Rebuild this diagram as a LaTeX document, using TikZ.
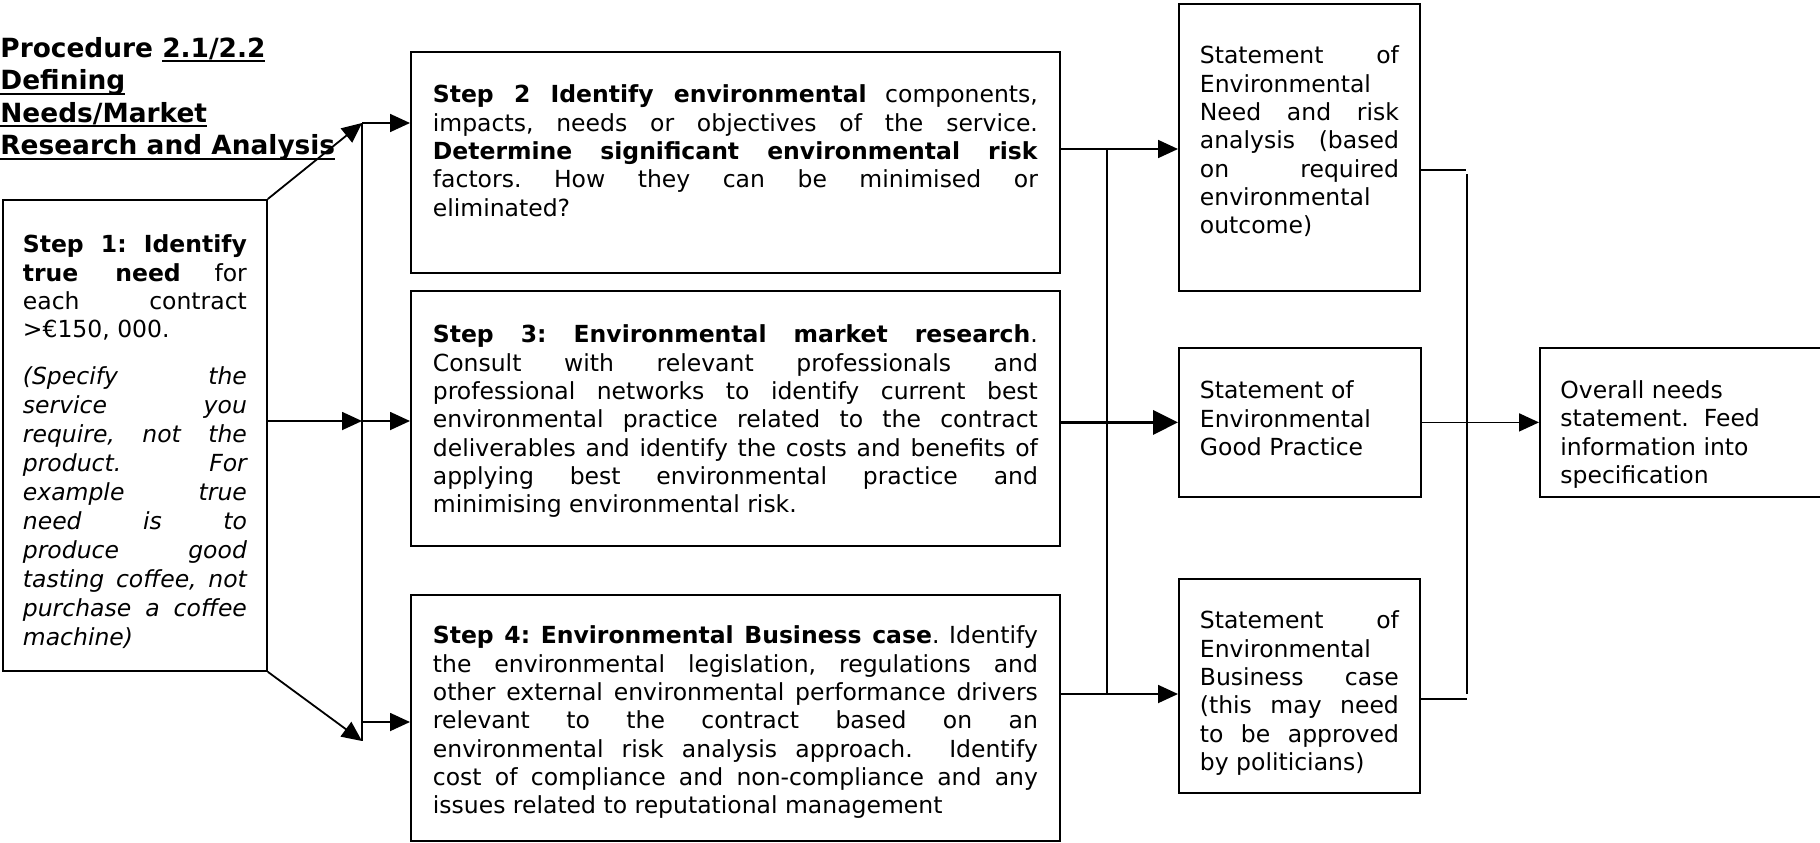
\documentclass[tikz,border=0pt]{standalone}
\usepackage{fontspec}
\setmainfont{DejaVu Sans}
\usepackage{tikz}
\usetikzlibrary{arrows.meta}
\newcommand\boxfont{\fontsize{11.75}{14.15}\selectfont}
\newcommand\titlefont{\fontsize{13.2}{16.2}\selectfont\bfseries}
\newcommand\ulword[1]{\leavevmode\sbox0{#1}\rlap{\rule[-2.5pt]{\wd0}{1pt}}\usebox0}
\newcommand\boxpar[3]{\begin{minipage}[t][#2][t]{#1}\rule{0pt}{9pt}#3\end{minipage}}
\frenchspacing
\hyphenpenalty=10000
\tolerance=10000
\hbadness=10000
\vbadness=10000

\begin{document}
\begin{tikzpicture}[x=0.5pt, y=-0.5pt,
        stepbox/.style={draw, line width=0.9pt, anchor=north west, inner xsep=11pt, font=\boxfont},
        statebox/.style={stepbox, inner xsep=10.5pt},
        link/.style={line width=0.9pt, -{Triangle[length=10pt,width=9pt]}},
        boldlink/.style={line width=1.8pt, -{Triangle[length=12.5pt,width=12pt]}},
        wire/.style={line width=0.9pt}
    ]
        \path[use as bounding box, fill=white] (0,0) rectangle (1820,842);

        % Title
        \node[anchor=north west, inner sep=0pt, align=left, font=\titlefont] (ttl) at (0,37)
            {\rule{0pt}{10pt}Procedure \ulword{2.1/2.2}\\ \ulword{Defining}\\ \ulword{Needs/Market}\\ \ulword{Research and Analysis}};

        % Step 1
        \node[stepbox, inner xsep=10pt, inner ysep=17.5pt] (s1) at (2,199) {\boxpar{112pt}{200.5pt}{%
            \textbf{Step 1: Identify}\linebreak \textbf{true need} for\linebreak each contract\linebreak >€150, 000.\par
            \vspace{8.8pt}%
            {\fontsize{11.75}{14.5}\selectfont\itshape (Specify the\linebreak service you\linebreak require, not the\linebreak product. For\linebreak example true\linebreak need is to\linebreak produce good\linebreak tasting coffee, not\linebreak purchase a coffee\linebreak machine)\par}}};

        % Steps 2-4
        \node[stepbox, inner ysep=16.5pt] (s2) at (410,51) {\boxpar{302.5pt}{77.5pt}{%
            \textbf{Step 2 Identify environmental} components,\linebreak impacts, needs or objectives of the service.\linebreak \textbf{Determine significant environmental risk}\linebreak factors. How they can be minimised or\linebreak eliminated?}};
        \node[stepbox, inner ysep=17pt] (s3) at (410,290) {\boxpar{302.5pt}{93.5pt}{%
            \textbf{Step 3: Environmental market research}.\linebreak Consult with relevant professionals and\linebreak professional networks to identify current best\linebreak environmental practice related to the contract\linebreak deliverables and identify the costs and benefits of\linebreak applying best environmental practice and\linebreak minimising environmental risk.}};
        \node[stepbox, inner ysep=15.5pt] (s4) at (410,594) {\boxpar{302.5pt}{92pt}{%
            \textbf{Step 4: Environmental Business case}. Identify\linebreak the environmental legislation, regulations and\linebreak other external environmental performance drivers\linebreak relevant to the contract based on an\linebreak environmental risk analysis approach.~ Identify\linebreak cost of compliance and non-compliance and any\linebreak issues related to reputational management}};

        % Statements
        \node[statebox, inner ysep=21pt] (st1) at (1178,3) {\boxpar{99.5pt}{101.5pt}{%
            Statement of\linebreak Environmental\linebreak Need and risk\linebreak analysis (based\linebreak on required\linebreak environmental\linebreak outcome)}};
        \node[statebox, inner ysep=16.5pt] (st2) at (1178,347) {\boxpar{100pt}{41.5pt}{\raggedright
            Statement of\\ Environmental\\ Good Practice}};
        \node[statebox, inner ysep=16pt] (st3) at (1178,578) {\boxpar{99.5pt}{75pt}{%
            Statement of\linebreak Environmental\linebreak Business case\linebreak (this may need\linebreak to be approved\linebreak by politicians)}};

        % Overall (text cut by the frame)
        \node[stepbox, inner sep=0pt, minimum width=145.5pt, minimum height=74.5pt] (ovr) at (1539,347) {};
        \begin{scope}
            \clip (ovr.north west) rectangle ([yshift=4pt]ovr.south east);
            \node[anchor=north west, inner sep=0pt, align=left, font=\boxfont] (ovrtext) at ([xshift=10.5pt,yshift=-16.5pt]ovr.north west)
                {\rule{0pt}{9pt}Overall needs\\ statement.~ Feed\\ information into\\ specification};
        \end{scope}

        % Left bus
        \coordinate (busT) at (362,123);
        \coordinate (busM) at (362,421);
        \coordinate (busL) at (362,722);
        \coordinate (busB) at (362,741);
        \draw[wire] (busT) -- (busB);
        \draw[link] (s1.north east) -- (busT);
        \draw[link] (s1.south east) -- (busB);
        \draw[link] (busM -| s1.east) -- (busM);
        \draw[link] (busT) -- (busT -| s2.west);
        \draw[link] (busM) -- (busM -| s3.west);
        \draw[link] (busL) -- (busL -| s4.west);

        % Middle bus
        \coordinate (r2) at (1107,149);
        \coordinate (r4) at (1107,694);
        \draw[wire] (r2) -- (r4);
        \draw[link] (r2 -| s2.east) -- (r2 -| st1.west);
        \draw[link] (r4 -| s4.east) -- (r4 -| st3.west);
        \draw[boldlink] (st2.west -| s3.east) -- (st2.west);

        % Right bus
        \coordinate (q1) at (1466,170);
        \coordinate (q3) at (1467,699);
        \draw[wire] (q1 -| st1.east) -- (q1);
        \draw[wire] (q3 -| st3.east) -- (q3);
        \draw[line width=1.1pt] (1467,174) -- (1467,694);
        \draw[link] (st2) -- (ovr);

    \end{tikzpicture}
\end{document}
